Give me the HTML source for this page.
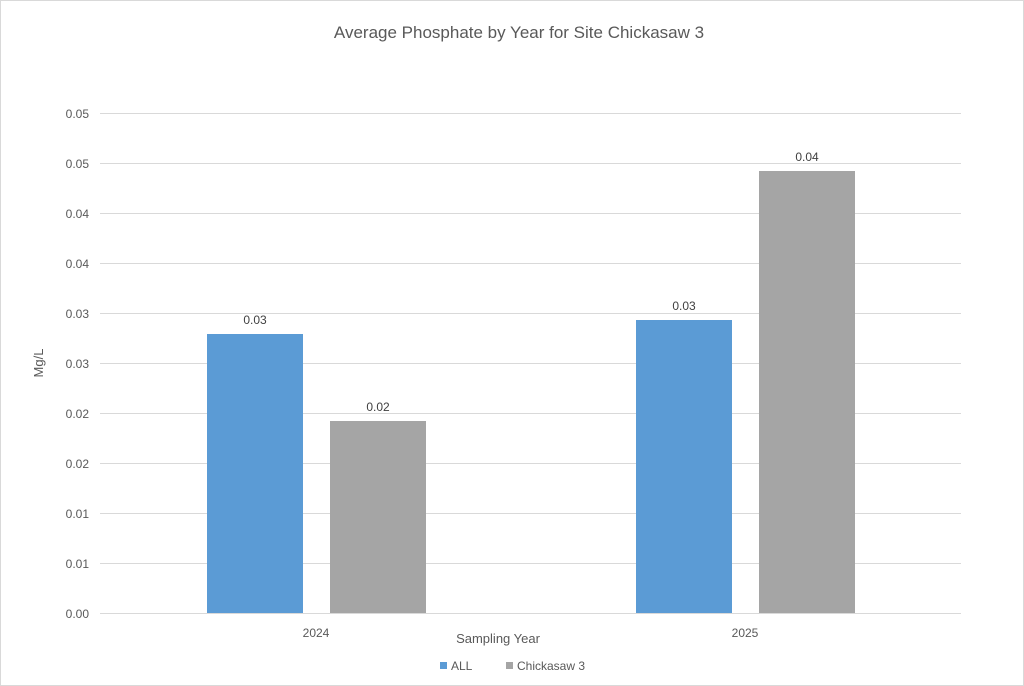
<!DOCTYPE html>
<html><head><style>
body{margin:0;background:#fff}
svg{display:block;font-family:"Liberation Sans",sans-serif}
</style></head><body>
<svg width="1024" height="686" viewBox="0 0 1024 686">
<rect x="0.5" y="0.5" width="1023" height="685" fill="#fff" stroke="#d9d9d9"/>
<text x="519" y="38" font-size="17" fill="#595959" text-anchor="middle">Average Phosphate by Year for Site Chickasaw 3</text>
<g stroke="#d9d9d9" stroke-width="1">
<line x1="100" x2="961" y1="113.5" y2="113.5"/><line x1="100" x2="961" y1="163.5" y2="163.5"/>
<line x1="100" x2="961" y1="213.5" y2="213.5"/><line x1="100" x2="961" y1="263.5" y2="263.5"/>
<line x1="100" x2="961" y1="313.5" y2="313.5"/><line x1="100" x2="961" y1="363.5" y2="363.5"/>
<line x1="100" x2="961" y1="413.5" y2="413.5"/><line x1="100" x2="961" y1="463.5" y2="463.5"/>
<line x1="100" x2="961" y1="513.5" y2="513.5"/><line x1="100" x2="961" y1="563.5" y2="563.5"/>
<line x1="100" x2="961" y1="613.5" y2="613.5"/>
</g>
<g font-size="12" fill="#595959" text-anchor="end">
<text x="89" y="118">0.05</text><text x="89" y="168">0.05</text><text x="89" y="218">0.04</text>
<text x="89" y="268">0.04</text><text x="89" y="318">0.03</text><text x="89" y="368">0.03</text>
<text x="89" y="418">0.02</text><text x="89" y="468">0.02</text><text x="89" y="518">0.01</text>
<text x="89" y="568">0.01</text><text x="89" y="618">0.00</text>
</g>
<text transform="translate(43,363) rotate(-90)" font-size="13" fill="#595959" text-anchor="middle">Mg/L</text>
<rect x="207" y="334" width="96" height="279" fill="#5b9bd5"/>
<rect x="330" y="421" width="96" height="192" fill="#a5a5a5"/>
<rect x="636" y="320" width="96" height="293" fill="#5b9bd5"/>
<rect x="759" y="171" width="96" height="442" fill="#a5a5a5"/>
<g font-size="12" fill="#404040" text-anchor="middle">
<text x="255" y="324">0.03</text><text x="378" y="411">0.02</text>
<text x="684" y="310">0.03</text><text x="807" y="161">0.04</text>
</g>
<g font-size="12" fill="#595959" text-anchor="middle">
<text x="316" y="637">2024</text><text x="745" y="637">2025</text>
</g>
<text x="498" y="643" font-size="13" fill="#595959" text-anchor="middle">Sampling Year</text>
<rect x="440" y="662" width="7" height="7" fill="#5b9bd5"/>
<text x="451" y="670" font-size="12" fill="#595959">ALL</text>
<rect x="506" y="662" width="7" height="7" fill="#a5a5a5"/>
<text x="517" y="670" font-size="12" fill="#595959">Chickasaw 3</text>
</svg>
</body></html>
